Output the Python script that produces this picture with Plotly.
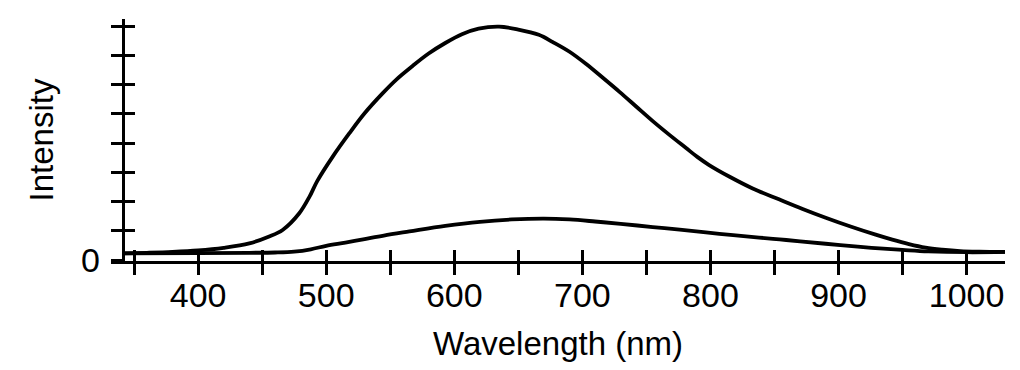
import plotly.graph_objects as go

# Upper (strong) emission spectrum
wl_upper = [341, 360, 380, 400, 420, 440, 455, 466, 479, 487, 493, 505, 518, 530, 544,
            555, 567, 580, 593, 606, 619, 635, 650, 666, 677, 690, 703, 716, 729, 742, 755,
            768, 781, 790, 799, 815, 833, 854, 872, 890, 910, 929, 942, 955, 968,
            981, 995, 1010, 1030]
int_upper = [0.23, 0.25, 0.28, 0.33, 0.42, 0.57, 0.8, 1.03, 1.6, 2.17, 2.7, 3.53, 4.33, 5.02, 5.70,
             6.18, 6.62, 7.06, 7.42, 7.72, 7.91, 7.98, 7.88, 7.7, 7.45, 7.12, 6.7, 6.23, 5.75, 5.25, 4.75,
             4.28, 3.83, 3.52, 3.25, 2.85, 2.45, 2.07, 1.75, 1.45, 1.14, 0.87, 0.70, 0.55, 0.43,
             0.36, 0.31, 0.29, 0.28]

# Lower (weak) emission spectrum
wl_lower = [341, 400, 440, 460, 475, 488, 500, 515, 530, 545, 565, 593, 620, 645, 670, 690, 710,
            730, 755, 776, 807, 838, 854, 870, 890, 915, 932, 950, 970, 1000, 1030]
int_lower = [0.23, 0.24, 0.25, 0.26, 0.29, 0.37, 0.49, 0.60, 0.72, 0.84, 0.98, 1.17, 1.31, 1.39, 1.42, 1.39, 1.32,
             1.24, 1.13, 1.04, 0.90, 0.77, 0.71, 0.64, 0.56, 0.46, 0.40, 0.35, 0.30, 0.27, 0.28]

x_tickvals = list(range(350, 1001, 50))
x_ticktext = [str(v) if v % 100 == 0 else "" for v in x_tickvals]
y_tickvals = list(range(0, 9))
y_ticktext = ["0"] + [""] * 8

X_RANGE = [332, 1030]
Y_RANGE = [-0.03, 8.24]
FONT = "Liberation Sans, Arial, sans-serif"
LW = 2.6
TL = 11
YPOS = 11.5 / 894

fig = go.Figure()
fig.add_trace(go.Scatter(x=wl_upper, y=int_upper, mode="lines",
                         line=dict(color="black", width=3.8, shape="spline", smoothing=1.0),
                         hoverinfo="skip", showlegend=False))
fig.add_trace(go.Scatter(x=wl_lower, y=int_lower, mode="lines",
                         line=dict(color="black", width=3.8, shape="spline", smoothing=1.0),
                         hoverinfo="skip", showlegend=False))
# invisible trace on overlay axes (for the inner half of the crossing ticks)
fig.add_trace(go.Scatter(x=[None], y=[None], xaxis="x2", yaxis="y2", mode="lines",
                         hoverinfo="skip", showlegend=False))

common = dict(showgrid=False, zeroline=False, fixedrange=True, automargin=False)
fig.update_layout(
    width=1012, height=362,
    margin=dict(l=103, r=15, t=11, b=109),
    paper_bgcolor="white", plot_bgcolor="white",
    font=dict(family=FONT, size=34, color="black"),
    xaxis=dict(range=X_RANGE, tickvals=x_tickvals, ticktext=x_ticktext,
               ticks="outside", ticklen=TL, tickwidth=LW, tickcolor="black",
               showline=True, linewidth=LW, linecolor="black",
               ticklabelstandoff=-9,
               title=dict(text="Wavelength (nm)", standoff=20, font=dict(size=33)),
               tickfont=dict(size=34), **common),
    yaxis=dict(range=Y_RANGE, tickvals=y_tickvals, ticktext=y_ticktext,
               anchor="free", position=YPOS,
               ticks="outside", ticklen=TL, tickwidth=LW, tickcolor="black",
               showline=True, linewidth=LW, linecolor="black",
               ticklabelstandoff=4,
               title=dict(text="Intensity", standoff=16, font=dict(size=33)),
               tickfont=dict(size=34), **common),
    xaxis2=dict(range=X_RANGE, tickvals=x_tickvals, overlaying="x", anchor="y2",
                ticks="inside", ticklen=TL, tickwidth=LW, tickcolor="black",
                showticklabels=False, showline=False, **common),
    yaxis2=dict(range=Y_RANGE, tickvals=y_tickvals, overlaying="y", anchor="free", position=YPOS,
                ticks="inside", ticklen=TL, tickwidth=LW, tickcolor="black",
                showticklabels=False, showline=False, **common),
)

fig.write_html("out.html")
